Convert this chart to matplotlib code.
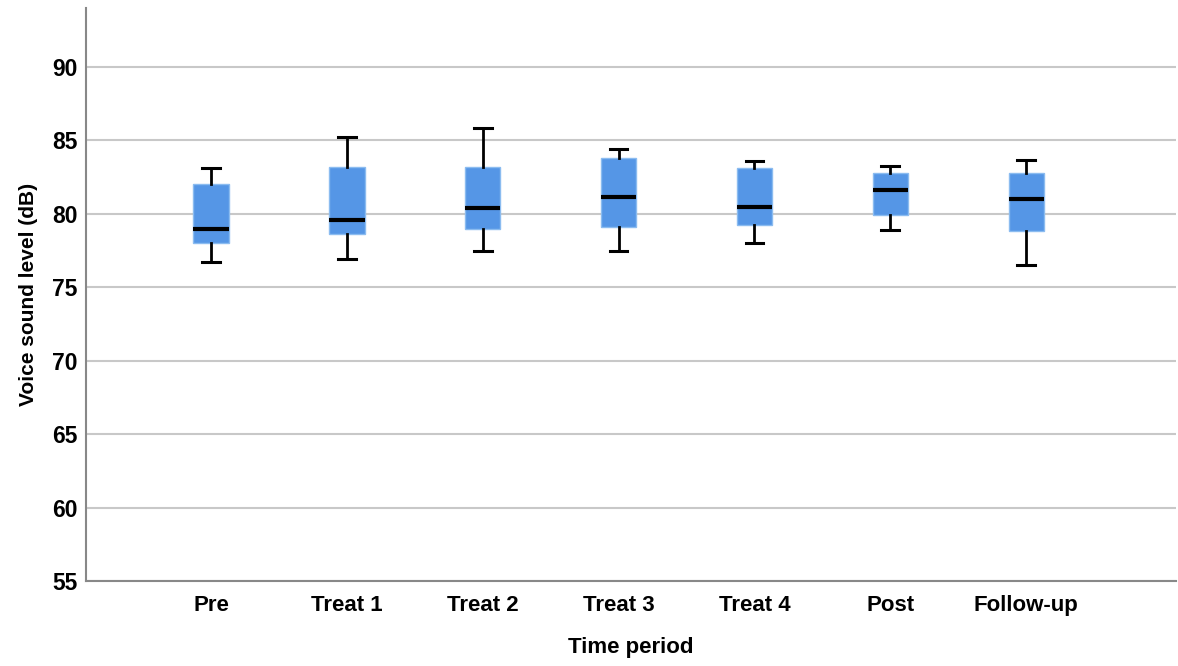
import matplotlib.pyplot as plt

plt.rcParams['font.family'] = ['Liberation Sans', 'DejaVu Sans']

periods = ["Pre", "Treat 1", "Treat 2", "Treat 3", "Treat 4", "Post", "Follow-up"]
whisk_lo = [76.7, 76.95, 77.5, 77.5, 78.0, 78.9, 76.5]
q1 = [78.0, 78.6, 79.0, 79.1, 79.25, 79.95, 78.85]
median = [79.0, 79.6, 80.4, 81.15, 80.45, 81.6, 81.0]
q3 = [82.05, 83.2, 83.2, 83.8, 83.15, 82.8, 82.8]
whisk_hi = [83.15, 85.2, 85.85, 84.4, 83.6, 83.25, 83.7]

stats = []
for i, name in enumerate(periods):
    stats.append(dict(label=name, whislo=whisk_lo[i], q1=q1[i], med=median[i],
                      q3=q3[i], whishi=whisk_hi[i], fliers=[]))

fig = plt.figure(figsize=(11.78, 6.66), dpi=100)
ax = fig.add_axes([0.073, 0.1276, 0.925, 0.86])

ax.bxp(stats, positions=range(len(periods)), widths=0.26, patch_artist=True,
       boxprops=dict(facecolor='#5596e6', edgecolor='#8bbcf0', linewidth=1),
       medianprops=dict(color='black', linewidth=3),
       whiskerprops=dict(color='black', linewidth=2),
       capprops=dict(color='black', linewidth=2.2),
       capwidths=0.13, zorder=3)

ax.set_ylim(55, 94)
ax.set_xlim(-0.92, 7.1)
ax.set_yticks([55, 60, 65, 70, 75, 80, 85, 90])
ax.yaxis.grid(True, color='#c8c8c8', linewidth=1.5, zorder=0)
ax.set_axisbelow(True)
ax.tick_params(axis='y', length=0, labelsize=16.5, pad=6)
ax.tick_params(axis='x', length=0, labelsize=16, pad=10)
for lab in ax.get_xticklabels() + ax.get_yticklabels():
    lab.set_fontweight('bold')

for s in ['top', 'right']:
    ax.spines[s].set_visible(False)
for s in ['left', 'bottom']:
    ax.spines[s].set_color('#888888')
    ax.spines[s].set_linewidth(1.5)

ax.set_xlabel('Time period', fontsize=16, fontweight='bold', labelpad=15)
ax.set_ylabel('Voice sound level (dB)', fontsize=15, fontweight='bold', labelpad=10)

fig.savefig('out.png', dpi=100)
